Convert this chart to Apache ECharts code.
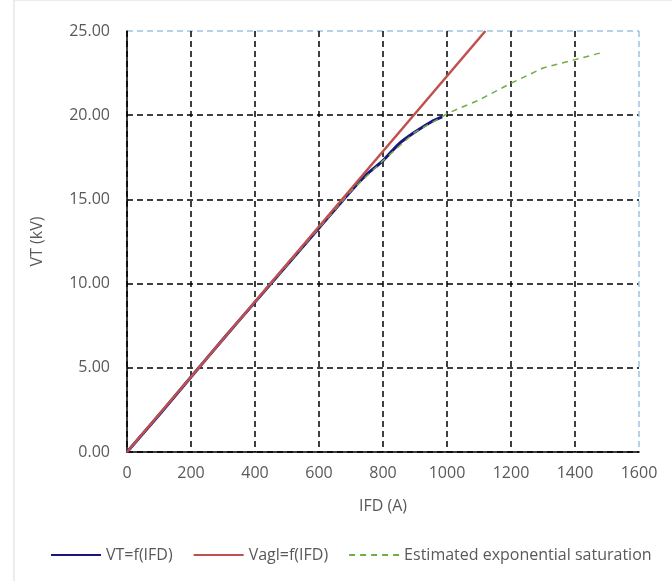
<!DOCTYPE html>
<html><head><meta charset="utf-8">
<script src="https://cdn.jsdelivr.net/npm/echarts@6/dist/echarts.min.js"></script>
<style>html,body{margin:0;padding:0;background:#fff}#c{width:672px;height:581px}</style>
</head><body><div id="c"></div>
<script>
const vtX = [0, 100, 200, 300, 400, 500, 600, 700, 750, 800, 850, 900, 950, 985];
const vtY = [0, 2.2, 4.45, 6.7, 8.9, 11.1, 13.3, 15.5, 16.5, 17.3, 18.3, 19.0, 19.6, 19.9];
const vaglX = [0, 1120];
const vaglY = [0, 25];
const estX = [0, 200, 400, 600, 700, 800, 900, 985, 1000, 1100, 1200, 1300, 1400, 1480];
const estY = [0, 4.45, 8.9, 13.3, 15.5, 17.3, 19.0, 19.9, 20.1, 20.9, 21.9, 22.8, 23.3, 23.7];
const xTicks = [0, 200, 400, 600, 800, 1000, 1200, 1400, 1600];
const yTicks = [0, 5, 10, 15, 20, 25];

const zip = (a, b) => a.map((v, i) => [v, b[i]]);
const font = '"Open Sans", "Liberation Sans", sans-serif';
const grey = '#595959';
const gridBlue = '#9dc3e6';

const chart = echarts.init(document.getElementById('c'), null, {renderer: 'canvas'});
chart.setOption({
  animation: false,
  backgroundColor: '#fff',
  graphic: [{type: 'rect', shape: {x: 14, y: 0, width: 700, height: 700}, style: {fill: 'none', stroke: '#d9d9d9', lineWidth: 1}, z: -10}],
  grid: {left: 127, right: 33, top: 31, bottom: 129, containLabel: false},
  xAxis: {
    type: 'value', min: 0, max: 1600, interval: 200,
    name: 'IFD (A)', nameLocation: 'middle', nameGap: 46,
    nameTextStyle: {color: grey, fontSize: 16, fontFamily: font},
    axisLine: {show: true, onZero: false, lineStyle: {color: '#000', width: 1.5}},
    axisTick: {show: false},
    axisLabel: {color: grey, fontSize: 16, fontFamily: font, margin: 13, formatter: v => String(v)},
    splitLine: {show: true, lineStyle: {type: [6, 4], width: 1.5,
      color: xTicks.map((t, i) => i === xTicks.length - 1 ? gridBlue : '#000')}}
  },
  yAxis: {
    type: 'value', min: 0, max: 25, interval: 5,
    name: 'VT (kV)', nameLocation: 'middle', nameGap: 82, nameRotate: 90,
    nameTextStyle: {color: grey, fontSize: 16, fontFamily: font},
    axisLine: {show: true, onZero: false, lineStyle: {color: '#000', width: 1.5}},
    axisTick: {show: false},
    axisLabel: {color: grey, fontSize: 16, fontFamily: font, margin: 17, formatter: v => v.toFixed(2)},
    splitLine: {show: true, lineStyle: {type: [6, 4], width: 1.5,
      color: yTicks.map((t, i) => i === yTicks.length - 1 ? gridBlue : '#000')}}
  },
  legend: {
    bottom: 13, left: 45, itemWidth: 50, itemHeight: 10, itemGap: 20,
    itemStyle: {opacity: 0},
    textStyle: {color: grey, fontSize: 16, fontFamily: font},
    data: ['VT=f(IFD)', 'Vagl=f(IFD)', 'Estimated exponential saturation']
  },
  series: [
    {name: 'Estimated exponential saturation', type: 'line', data: zip(estX, estY), symbol: 'none', z: 3,
     lineStyle: {color: '#70ad47', width: 1.5, type: [6, 5]}, itemStyle: {color: '#70ad47'}},
    {name: 'VT=f(IFD)', type: 'line', data: zip(vtX, vtY), symbol: 'none', smooth: 0.3, z: 2,
     lineStyle: {color: '#1a1680', width: 3}, itemStyle: {color: '#1a1680'}},
    {name: 'Vagl=f(IFD)', type: 'line', data: zip(vaglX, vaglY), symbol: 'none', z: 4,
     lineStyle: {color: '#c0504d', width: 2.5}, itemStyle: {color: '#c0504d'}}
  ]
});
</script></body></html>
